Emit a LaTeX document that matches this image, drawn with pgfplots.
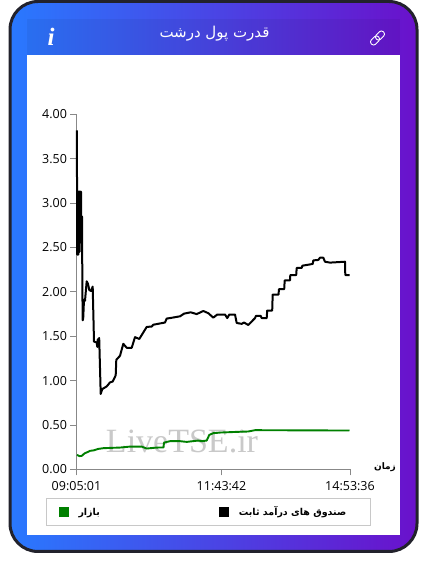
\documentclass[border=0pt]{standalone}
\usepackage{fontspec}
\usepackage{pgfplots}
\usepackage{pgfplotstable}
\pgfplotsset{compat=1.18}
\setmainfont{Open Sans}
\newfontfamily\arabicfont[Script=Arabic]{DejaVu Sans}
\newfontfamily\serifwm{Liberation Serif}
\TeXXeTstate=1
\definecolor{cardblue}{HTML}{2979FF}
\definecolor{cardpurple}{HTML}{6A11CB}
\definecolor{cardborder}{HTML}{22222C}
\definecolor{axisgray}{HTML}{888888}
\definecolor{legendgray}{HTML}{C8C8C8}
\definecolor{wmgray}{HTML}{C9C9C9}
\definecolor{mktgreen}{HTML}{008000}
\pgfplotstableread{
x y
77.0 0.163
79.5 0.150
81.7 0.152
83.5 0.170
85 0.183
87.5 0.195
90 0.209
94 0.215
98.3 0.231
103.3 0.239
112 0.243
120 0.246
130 0.257
141.7 0.257
146.7 0.235
156.7 0.246
163.5 0.247
164 0.302
170 0.318
180 0.318
186.7 0.310
198.3 0.325
201.7 0.318
206.7 0.325
209.3 0.389
213.3 0.408
220 0.415
235 0.422
248.3 0.427
255 0.442
300 0.440
349.5 0.438
}\marketdata
\pgfplotstableread{
x y
76.9 3.82
77.0 3.30
77.2 2.42
77.5 3.00
77.7 2.42
78.0 3.13
78.3 2.42
78.6 3.13
78.9 2.45
79.2 3.13
79.5 2.45
79.8 3.13
80.1 2.55
80.4 3.13
80.7 2.60
81.0 3.13
81.2 2.70
81.4 2.85
82.0 2.85
82.4 2.00
82.7 1.68
83.2 1.70
84 1.91
85 1.90
86.7 2.12
88 2.09
89.3 2.02
91 2.01
92.7 2.06
94 1.44
96.7 1.43
97.3 1.38
97.7 1.46
99.2 1.48
100.7 0.85
102.3 0.905
106.7 0.935
110 0.98
112.7 0.99
115.7 1.06
116.3 1.235
120 1.28
123.3 1.415
126.7 1.37
131.7 1.37
135 1.49
139.3 1.47
146.7 1.605
151.7 1.61
153.3 1.63
165 1.655
166.7 1.70
170 1.705
175 1.715
180 1.725
184 1.755
190.7 1.77
196.7 1.75
203.3 1.785
208.3 1.76
213.3 1.71
217.3 1.745
225 1.745
227.3 1.705
229.3 1.745
235 1.745
236.7 1.65
241.7 1.64
244 1.655
248.3 1.627
255 1.705
256 1.73
260.7 1.73
261.7 1.705
266.7 1.705
267.2 1.79
272.2 1.79
272.7 1.97
278.5 1.97
279 2.03
284.2 2.03
284.7 2.13
290 2.13
290.3 2.19
296.2 2.19
296.7 2.27
301.7 2.27
302.3 2.295
312.7 2.315
313.3 2.355
318.3 2.36
320 2.385
323.3 2.385
325 2.34
330 2.33
345 2.34
345.3 2.19
349.5 2.19
}\funddata
\begin{document}
\begin{tikzpicture}
\path[use as bounding box] (0,0) rectangle (427pt,574pt);
\begin{scope}[x=1pt,y=-1pt,shift={(0pt,574pt)}]
  \path[draw=cardborder,line width=3pt,rounded corners=28pt,left color=cardblue,right color=cardpurple]
     (10,1.5) rectangle (417,551.5);
  \fill[black,opacity=0.05] (27,19) rectangle (400,55);
  \fill[white] (27,55) rectangle (400,535);
  \node[white,font=\arabicfont\fontsize{15}{17}\selectfont] at (214.5,34) {\beginR قدرت پول درشت\endR};
  \node[white,font=\serifwm\bfseries\itshape\fontsize{25}{27}\selectfont] at (51,37) {i};
  \begin{scope}[shift={(377.5,38)},rotate=45,white,line width=0.9pt]
    \draw[rounded corners=2.6pt] (-8.5,-3) rectangle (1.5,3);
    \draw[rounded corners=2.6pt] (-1.5,-3) rectangle (8.5,3);
  \end{scope}
  \node[wmgray,font=\serifwm\fontsize{34}{36}\selectfont] at (182,441) {LiveTSE.ir};
  \node[font=\arabicfont\bfseries\fontsize{9}{10}\selectfont] at (385,467.5) {\beginR زمان\endR};
\end{scope}
\begin{axis}[
  at={(76.5pt,104.6pt)},anchor=south west,
  scale only axis,width=273.5pt,height=355pt,
  xmin=76.5,xmax=350,ymin=0,ymax=4,
  axis x line=bottom,axis y line=left,
  axis line style={-,axisgray,line width=1pt},
  tick style={axisgray,line width=1pt},
  major tick length=6pt,tick align=outside,
  xtick={76.5,221.5,350},
  xticklabels={09:05:01,11:43:42,14:53:36},
  ytick={0,0.5,1,1.5,2,2.5,3,3.5,4},
  yticklabel style={/pgf/number format/.cd,fixed,fixed zerofill,precision=2,assume math mode=true},
  ticklabel style={font=\fontsize{12.5}{14}\selectfont},
  xticklabel style={yshift=-3pt},
  legend columns=2,
  legend cell align=left,
  legend style={
    at={(axis description cs:-0.1115,-0.1594)},anchor=south west,
    draw=legendgray,line width=1pt,fill=white,
    inner xsep=12pt,inner ysep=8pt,
    nodes={inner sep=0pt,font=\arabicfont\bfseries\fontsize{9.5}{10}\selectfont,anchor=base west},
    /tikz/column 2/.style={column sep=119pt},
    /tikz/column 1/.style={column sep=10pt},
    /tikz/column 3/.style={column sep=10pt},
  },
  legend image code/.code={\fill[#1,draw=none] (0pt,-2pt) rectangle (10pt,8pt);},
  clip=false,
]
\addplot[mktgreen,line width=1.9pt,line join=round] table[x=x,y=y] {\marketdata};
\addlegendentry{\beginR بازار\endR}
\addplot[black,line width=2pt,line join=round] table[x=x,y=y] {\funddata};
\addlegendentry{\beginR صندوق های درآمد ثابت\endR\hspace*{12.5pt}}
\end{axis}
\end{tikzpicture}
\end{document}
